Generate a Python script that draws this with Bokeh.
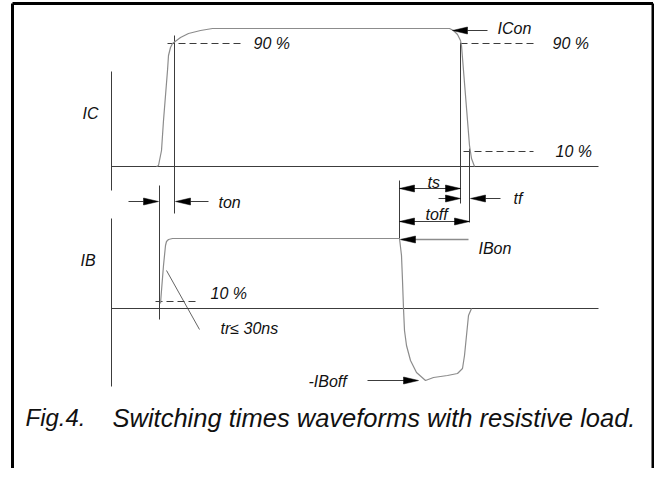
import numpy as np
from bokeh.plotting import figure
from bokeh.models import Range1d
from bokeh.core.properties import value
from bokeh.embed import file_html
from bokeh.resources import INLINE

# ---- waveform data (time position, level position) ----
ic_x = [156, 158, 161, 163, 165, 167, 168, 170, 172, 176, 180, 188, 200, 212, 230,
        445, 449, 453, 457, 460, 461, 463, 465, 467, 469, 471, 474]
ic_y = [166, 165, 150, 120, 95, 70, 55, 47, 43, 40, 37, 33, 30, 28, 28,
        28, 28, 30, 34, 40, 45, 70, 95, 120, 145, 158, 166]

ib_x = [160, 161, 163, 165, 166, 168, 172, 398, 399, 401, 402, 403, 404, 406, 410,
        416, 425, 433, 447, 457, 462, 464, 466, 468, 471]
ib_y = [303, 290, 265, 245, 241, 239, 238, 238, 238, 255, 280, 308, 330, 345, 360,
        372, 380, 377, 375, 373, 368, 355, 335, 315, 308]

# axes of the two traces
axis_x = [111, 111]
axis_y0 = [71, 218]
axis_y1 = [190, 386]
base_x0 = [111, 111]
base_x1 = [598, 598]
base_y = [166, 308]

# vertical timing guides
guide_x = [174, 159, 460, 469, 399]
guide_y0 = [35, 185, 42, 148, 180]
guide_y1 = [213, 319, 203, 222, 238]

# dashed level markers (90 %, 10 %)
dash_x0 = [167, 460, 463, 155]
dash_x1 = [243, 533, 533, 197]
dash_y = [43, 43, 151, 301]

# arrow shafts
shaft_x0 = [128, 190, 467, 399, 438, 485, 399, 367]
shaft_x1 = [143, 208, 487, 460, 446, 500, 469, 404]
shaft_y = [201, 201, 30, 188, 198, 198, 221, 380]
ibon_x0, ibon_x1, ibon_y = 401, 468, 239

# arrow heads: tip x, tip y, direction (+1 right, -1 left)
head_x = [158, 175, 452, 399, 460, 460, 470, 399, 469, 400, 418]
head_y = [201, 201, 30, 188, 188, 198, 198, 221, 221, 239, 380]
head_dir = [1, -1, -1, -1, 1, 1, -1, -1, 1, -1, 1]

# tr pointer
tr_x = [166, 199]
tr_y = [270, 329]

# labels
label_text = ["IC", "IB", "90 %", "ICon", "90 %", "10 %", "ton", "ts", "tf",
              "toff", "IBon", "10 %", "tr\u2264 30ns", "-IBoff"]
label_x = [82, 80, 253, 497, 552, 555, 218, 427, 513, 425, 478, 210, 220, 308]
label_y = [113, 260, 43, 28, 43, 151, 202, 182, 198, 214, 248, 293, 328, 381]

fig_text = ["Fig.4."]
fig_x = [25]
caption_text = ["Switching times waveforms with resistive load."]
caption_x = [112]
caption_y = [417]

W, H = 654, 468
p = figure(width=W, height=H, x_range=Range1d(0, W), y_range=Range1d(H, 0),
           output_backend="svg", toolbar_location=None, min_border=0)
p.axis.visible = False
p.grid.visible = False
p.outline_line_color = None
p.background_fill_color = "white"
p.border_fill_color = "white"

dark = "#3c3c3c"
grey = "#8c8c8c"
font = value("Liberation Sans")

# frame
p.segment(x0=[12, 12, 652.5], y0=[H, 3, 3], x1=[12, 652.5, 652.5], y1=[3, 3, H],
          line_color="black", line_width=3)

# axes
p.segment(x0=axis_x, y0=axis_y0, x1=axis_x, y1=axis_y1, line_color=dark, line_width=1)
p.segment(x0=base_x0, y0=base_y, x1=base_x1, y1=base_y, line_color=dark, line_width=1)

# guides
p.segment(x0=guide_x, y0=guide_y0, x1=guide_x, y1=guide_y1, line_color=dark, line_width=1)

# dashed
p.segment(x0=dash_x0, y0=dash_y, x1=dash_x1, y1=dash_y, line_color=dark, line_width=1,
          line_dash="7 4")

# waveforms
p.line(ic_x, ic_y, line_color=grey, line_width=1.2)
p.line(ib_x, ib_y, line_color=grey, line_width=1.2)

# tr pointer
p.line(tr_x, tr_y, line_color=dark, line_width=0.8)

# arrow shafts
p.segment(x0=shaft_x0, y0=shaft_y, x1=shaft_x1, y1=shaft_y, line_color=dark, line_width=1)
p.segment(x0=[ibon_x0], y0=[ibon_y], x1=[ibon_x1], y1=[ibon_y], line_color=grey, line_width=1.3)

# arrow heads
L, hw = 15, 3.5
xs, ys = [], []
for tx, ty, d in zip(head_x, head_y, head_dir):
    xs.append([tx, tx - d * L, tx - d * L])
    ys.append([ty, ty - hw, ty + hw])
p.patches(xs, ys, fill_color="black", line_color="black", line_width=0.5)

# labels
p.text(x=label_x, y=label_y, text=label_text, text_font=font, text_font_style="italic",
       text_font_size="16px", text_baseline="middle", text_align="left", text_color="#111111")

p.text(x=fig_x, y=caption_y, text=fig_text, text_font=font, text_font_style="italic",
       text_font_size="24px", text_baseline="alphabetic", text_align="left", text_color="#111111")
p.text(x=caption_x, y=caption_y, text=caption_text, text_font=font, text_font_style="italic",
       text_font_size="25.5px", text_baseline="alphabetic", text_align="left", text_color="#111111")

open("out.html", "w").write(file_html(p, INLINE))
